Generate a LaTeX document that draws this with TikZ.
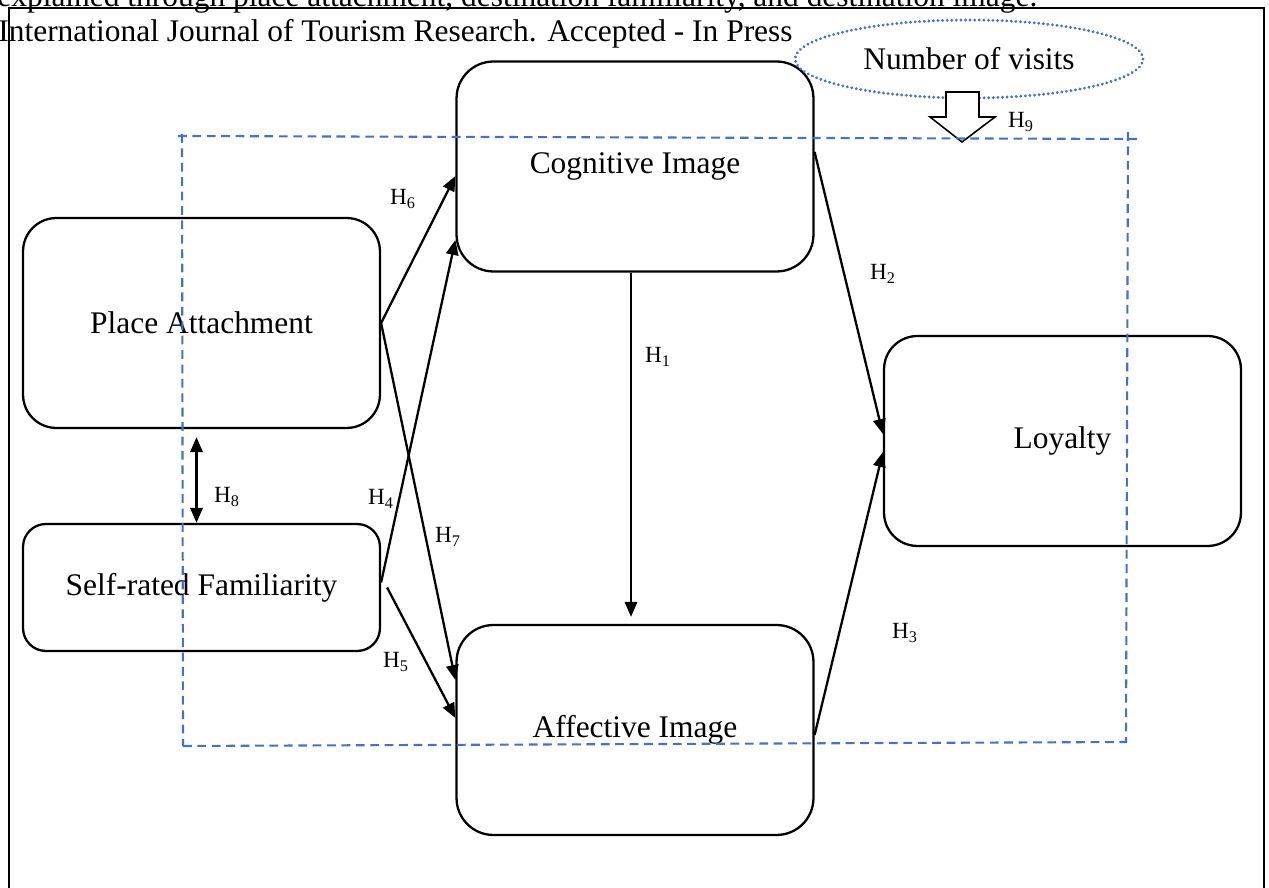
\documentclass[tikz,border=0pt]{standalone}
\usepackage{fontspec}
\setmainfont{Liberation Serif}
\usetikzlibrary{arrows.meta,shapes.geometric,calc}
\definecolor{wordblue}{RGB}{68,114,196}

\tikzset{
  construct/.style={draw, line width=1.3pt, rounded corners=19pt, minimum width=7.14cm, minimum height=4.2cm, font=\fontsize{17.9}{21}\selectfont},
  hyp/.style={font=\fontsize{13.2}{15}\selectfont, inner sep=1pt},
  link/.style={-{Triangle[length=8.5pt,width=7pt]}, line width=1.3pt},
  frameline/.style={draw=wordblue, line width=1.2pt, dash pattern=on 5pt off 3.2pt}
}

\begin{document}
\begin{tikzpicture}[x=0.02cm,y=-0.02cm]
\useasboundingbox (0,0) rectangle (1269,888);

\node[anchor=base west, inner sep=0, font=\fontsize{17.9}{21}\selectfont] (title1) at (-3,7) {explained through place attachment, destination familiarity, and destination image.};
\node[anchor=base west, inner sep=0, font=\fontsize{17.9}{21}\selectfont] (title2) at (-2,42) {International Journal of Tourism Research. Accepted - In Press};
\draw[line width=1.2pt] (9,900) -- (9,8) -- (1264,8) -- (1264,900);

\node[construct] (pa) at (201.5,323) {Place Attachment};
\node[construct, minimum height=2.54cm, rounded corners=13pt] (srf) at (201.5,587.5) {Self-rated Familiarity};
\node[construct, rounded corners=21pt] (cog) at (635,166.5) {Cognitive Image};
\node[construct, rounded corners=21pt] (aff) at (635,730) {Affective Image};
\node[construct] (loy) at (1062.5,441) {Loyalty};

\node[draw=wordblue, ellipse, line width=1.8pt, line cap=round, dash pattern=on 0.01pt off 2.6pt, minimum width=6.96cm, minimum height=1.56cm, font=\fontsize{17.9}{21}\selectfont] (visits) at (969,59) {Number of visits};
\filldraw[fill=white, line width=0.9pt] (946,92) -- (979,92) -- (979,117) -- (995,117) -- (962,142) -- (930,117) -- (946,117) -- cycle;

\draw[frameline] (178,136) -- (1137,139);
\draw[frameline] (182,134) -- (183,746);
\draw[frameline] (1128,132) -- (1126,742);
\draw[frameline] (183,746) -- (1127,742);

\draw[link] (pa.east) -- ($(cog.west)+(0,9.5)$);
\draw[link] (pa.east) -- ($(aff.west)+(0,-50)$);
\draw[link] ($(srf.east)+(0,-5)$) -- ($(cog.west)+(0,73.5)$);
\draw[link] ($(srf.east)+(6,0)$) -- ($(aff.west)+(0,-12)$);
\draw[link] ($(cog.south)+(-4,0)$) -- ($(aff.north)+(-4,-7)$);
\draw[link] ($(cog.east)+(0,-14.5)$) -- ($(loy.west)+(0,-7)$);
\draw[link] ($(aff.east)+(0,5)$) -- ($(loy.west)+(0,11)$);
\draw[{Triangle[length=8.5pt,width=7pt]}-{Triangle[length=8.5pt,width=7pt]}, line width=1.3pt] ($(pa.south)+(-5,8)$) -- ($(srf.north)+(-5,0)$);

\node[hyp] (h1) at (658,357) {H\textsubscript{1}};
\node[hyp] (h2) at (883,274) {H\textsubscript{2}};
\node[hyp] (h3) at (905,633) {H\textsubscript{3}};
\node[hyp] (h4) at (381,499) {H\textsubscript{4}};
\node[hyp] (h5) at (396,662) {H\textsubscript{5}};
\node[hyp] (h6) at (403,199) {H\textsubscript{6}};
\node[hyp] (h7) at (448,537) {H\textsubscript{7}};
\node[hyp] (h8) at (227,497) {H\textsubscript{8}};
\node[hyp] (h9) at (1021,122) {H\textsubscript{9}};
\end{tikzpicture}
\end{document}
